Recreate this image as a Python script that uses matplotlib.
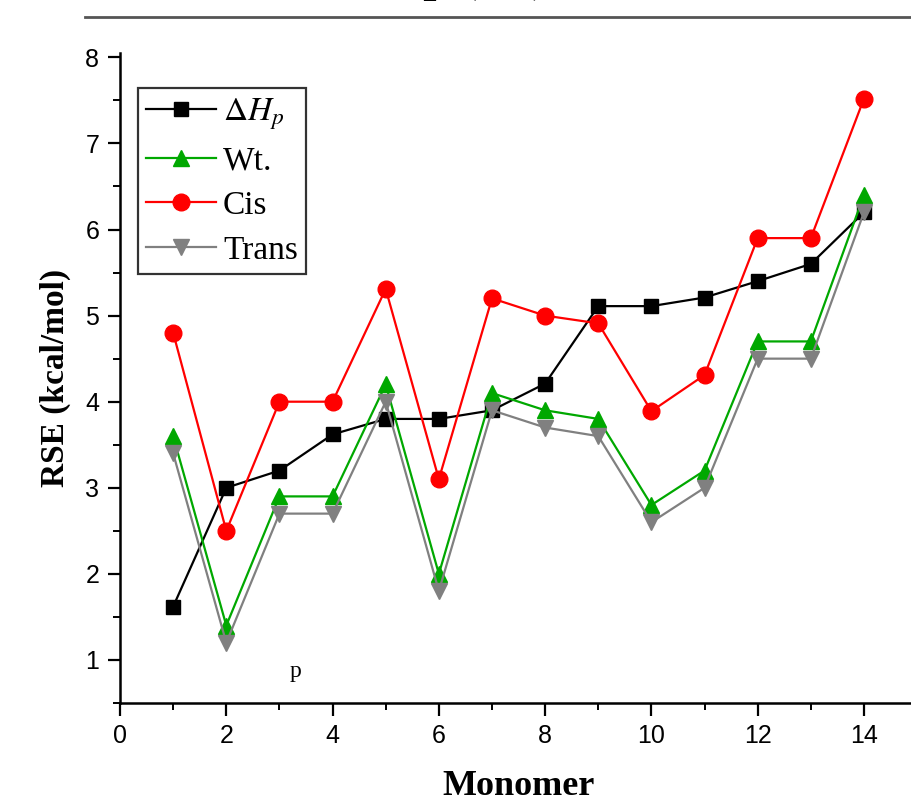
import numpy as np
import matplotlib.pyplot as plt
from matplotlib.ticker import MultipleLocator

monomer = np.arange(1, 15)
dh_p = [1.62, 3.0, 3.2, 3.62, 3.8, 3.8, 3.9, 4.21, 5.11, 5.11, 5.21, 5.4, 5.6, 6.2]
wt = [3.6, 1.4, 2.9, 2.9, 4.2, 2.0, 4.1, 3.9, 3.8, 2.8, 3.2, 4.7, 4.7, 6.4]
cis = [4.8, 2.5, 4.0, 4.0, 5.31, 3.1, 5.2, 5.0, 4.91, 3.89, 4.31, 5.9, 5.9, 7.52]
trans = [3.4, 1.2, 2.7, 2.7, 4.0, 1.8, 3.9, 3.7, 3.6, 2.6, 3.0, 4.5, 4.5, 6.2]

serif = 'Liberation Serif'
sans = 'Liberation Sans'
plt.rcParams['mathtext.fontset'] = 'stix'

fig = plt.figure(figsize=(9.12, 7.96), dpi=100)
ax = fig.add_axes([0.1316, 0.1168, 0.874, 0.8166])

ax.plot(monomer, dh_p, c='black', lw=1.6, marker='s', ms=10, label=r'$\Delta H_p$')
ax.plot(monomer, wt, c='#00a800', lw=1.6, marker='^', ms=11.5, label='Wt.')
ax.plot(monomer, cis, c='#ff0000', lw=1.6, marker='o', ms=12, label='Cis')
ax.plot(monomer, trans, c='#808080', lw=1.6, marker='v', ms=11.5, label='Trans')

ax.set_xlim(0, 15)
ax.set_ylim(0.5, 8.05)
ax.xaxis.set_minor_locator(MultipleLocator(1))
ax.yaxis.set_minor_locator(MultipleLocator(0.5))
ax.set_xticks(np.arange(0, 15, 2))
ax.set_yticks(np.arange(1, 9))

for s in ['top', 'right']:
    ax.spines[s].set_visible(False)
for s in ['left', 'bottom']:
    ax.spines[s].set_linewidth(1.8)

ax.tick_params(which='major', direction='out', length=9, width=1.6, labelsize=18, pad=6)
ax.tick_params(which='minor', direction='out', length=5, width=1.4)
for lab in ax.get_xticklabels() + ax.get_yticklabels():
    lab.set_fontfamily(sans)

ax.set_xlabel('Monomer', fontfamily=serif, fontweight='bold', fontsize=26, labelpad=16)
ax.set_ylabel('RSE (kcal/mol)', fontfamily=serif, fontweight='bold', fontsize=24, labelpad=10)

ax.text(3.3, 0.87, 'p', fontfamily=serif, fontsize=17, ha='center', va='center')

leg = ax.legend(loc='upper left', bbox_to_anchor=(0.0226, 0.946), prop={'family': serif, 'size': 24},
                frameon=True, fancybox=False, edgecolor='black', handlelength=2.1,
                borderpad=0.25, labelspacing=0.42, handletextpad=0.2, borderaxespad=0)
leg.get_frame().set_linewidth(1.6)

# header line and the title that is cut off above it
fig.add_artist(plt.Line2D([85 / 912, 1.0], [1 - 17 / 796, 1 - 17 / 796], color='#555555', lw=2))
fig.text(548 / 912, 1 + 9 / 796, 'RSE of monomers vs. ΔHp (eV)', fontfamily=serif,
         fontweight='bold', fontsize=34, ha='right', va='baseline')

plt.savefig('out.png', dpi=100)
